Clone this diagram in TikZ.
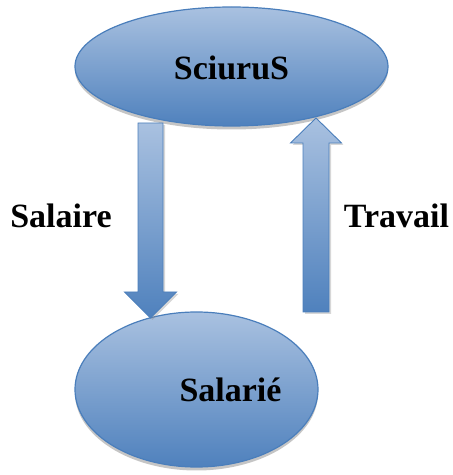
\documentclass[tikz,border=0pt]{standalone}
\usepackage{fontspec}
\setmainfont{Liberation Serif}
\usetikzlibrary{positioning,shadows,shapes.geometric}
\definecolor{blueL}{HTML}{A9C1E0}
\definecolor{blueD}{HTML}{4F81BD}
\definecolor{blueB}{HTML}{4A7EBB}
\tikzset{bubble/.style={ellipse,draw=blueB,line width=1.2pt,top color=blueL,bottom color=blueD,
           drop shadow={shadow xshift=0pt,shadow yshift=-3.5pt,opacity=0.5,fill=black!45}},
         lbl/.style={font=\fontsize{34}{40}\selectfont\bfseries,anchor=base,inner sep=0pt},
         bigarrow/.style={draw=blueB,line width=0.9pt,top color=blueL,bottom color=blueD,
           drop shadow={shadow xshift=2pt,shadow yshift=-2pt,opacity=0.35,fill=black!45}}
}

\begin{document}
\begin{tikzpicture}[x=1pt,y=1pt]
\useasboundingbox (0,0) rectangle (453,475);

\node[bubble,minimum width=313pt,minimum height=119pt] (sciurus) at (231.5,408.5) {};
\node[bubble,minimum width=243pt,minimum height=155pt] (salarie) at (196.5,85.5) {};
\node[lbl] (sciurustxt) at (231.5,395) {SciuruS};
\node[lbl] (salarietxt) at (230.5,73) {Salarié};
\node[lbl] (salaire) at (61,247) {Salaire};
\node[lbl] (travail) at (396.5,247) {Travail};

% fleche vers le bas
\coordinate (down) at (150.5,157);
\draw[bigarrow] ([xshift=-12.5pt,yshift=195pt]down) -- ([xshift=12.5pt,yshift=195pt]down)
  -- ([xshift=12.5pt,yshift=26pt]down) -- ([xshift=26pt,yshift=26pt]down) -- (down)
  -- ([xshift=-26pt,yshift=26pt]down) -- ([xshift=-12.5pt,yshift=26pt]down) -- cycle;
% fleche vers le haut
\coordinate (up) at (316,357);
\draw[bigarrow] ([xshift=-13pt,yshift=-194pt]up) -- ([xshift=13pt,yshift=-194pt]up)
  -- ([xshift=13pt,yshift=-25pt]up) -- ([xshift=25.5pt,yshift=-25pt]up) -- (up)
  -- ([xshift=-25.5pt,yshift=-25pt]up) -- ([xshift=-13pt,yshift=-25pt]up) -- cycle;

\end{tikzpicture}
\end{document}
